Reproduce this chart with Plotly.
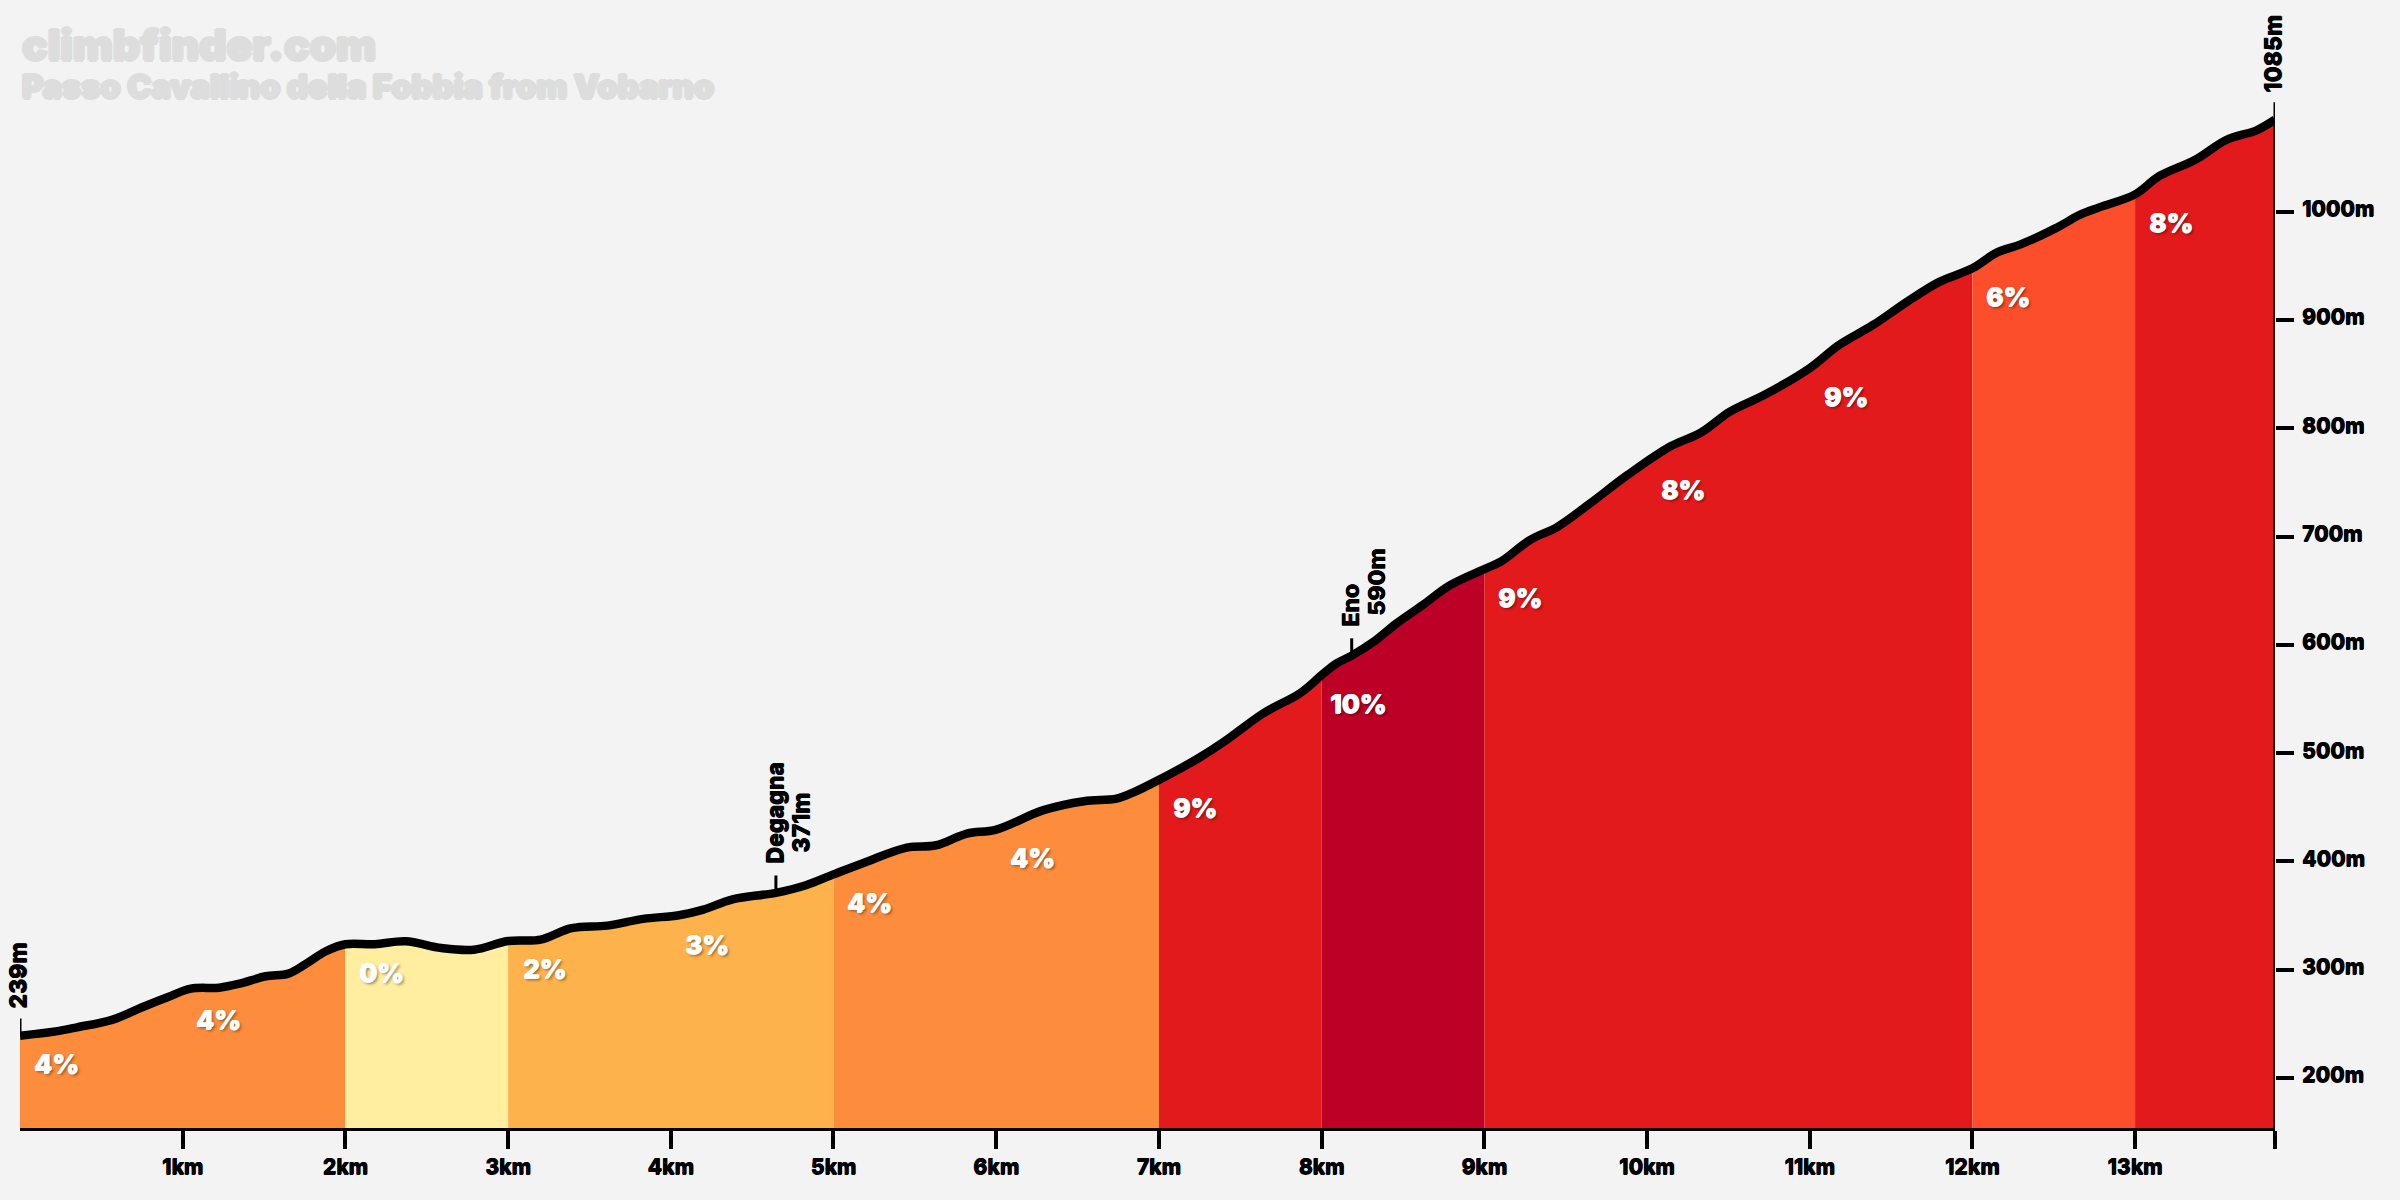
import numpy as np
import plotly.graph_objects as go

km = [0,.22,.35,.57,.755,.91,1.05,1.225,1.35,1.51,1.65,1.76,1.88,2.0,2.18,2.37,2.59,2.79,3.0,3.2,3.39,3.61,3.83,4.05,4.2,4.38,4.646,4.83,5.0,5.2,5.45,5.63,5.82,6.0,6.29,6.54,6.74,6.84,7.0,7.24,7.4,7.64,7.87,8.0,8.09,8.185,8.32,8.46,8.62,8.79,9.0,9.1,9.28,9.45,9.65,9.88,10.14,10.33,10.51,10.72,11.0,11.18,11.39,11.6,11.8,12.0,12.15,12.3,12.51,12.66,12.78,13.0,13.15,13.37,13.56,13.75,13.86]
elev = [239,243,246.8,253.9,265.6,274.8,282.5,283.4,287.1,293.9,296.4,305.6,317,323.5,323.5,326.2,320,318.5,326.5,327.8,338.3,340.7,346.9,350.3,355.5,365,371,378,388,399.5,412.8,414.9,425.7,429.4,447.3,455.6,458,463.5,475.3,495,510.4,536.6,555.6,572,582.7,590,602.8,619.7,636.6,655.1,670,676.7,696.7,709,730.6,756.8,783,795.9,815.3,830.7,855.5,876.9,895.4,917,935.4,947.7,962.2,970,984.6,997,1004,1016,1033,1048,1066.2,1075.4,1085]

band_start = [0, 2, 3, 5, 7, 8, 9, 12, 13]
band_end = [2, 3, 5, 7, 8, 9, 12, 13, 13.86]
band_color = ["#fd8d3c", "#ffeda0", "#feb24c", "#fd8d3c", "#e31a1c", "#bd0026", "#e31a1c", "#fc4e2a", "#e31a1c"]

grade_km = [0,1,2,3,4,5,6,7,8,9,10,11,12,13]
grade_text = ["4%","4%","0%","2%","3%","4%","4%","9%","10%","9%","8%","9%","6%","8%"]

x_ticks = [1,2,3,4,5,6,7,8,9,10,11,12,13]
x_tick_text = ["1km","2km","3km","4km","5km","6km","7km","8km","9km","10km","11km","12km","13km"]
y_ticks = [200,300,400,500,600,700,800,900,1000]

poi_km = [0, 4.646, 8.185, 13.86]
poi_elev = [239, 371, 590, 1085]
poi_name = [None, "Degagna", "Eno", None]
poi_text = ["239m", "371m", "590m", "1085m"]

FONT = "Inter"
INK = "#000000"
km_a, elev_a = np.array(km), np.array(elev)
ymin, ymax = 153.8, 1195.5

fig = go.Figure()
for a, b, c in zip(band_start, band_end, band_color):
    m = (km_a >= a) & (km_a <= b)
    fig.add_trace(go.Scatter(x=km_a[m], y=elev_a[m], mode="lines", line=dict(width=0, color=c),
                             fill="tozeroy", fillcolor=c, hoverinfo="skip", showlegend=False))

fig.add_trace(go.Scatter(x=[km[-1], km[-1]], y=[ymin, elev[-1]], mode="lines",
                         line=dict(color=INK, width=3), showlegend=False, cliponaxis=False))
for k, e in zip(poi_km, poi_elev):
    fig.add_trace(go.Scatter(x=[k, k], y=[e, e + 16], mode="lines",
                             line=dict(color=INK, width=3), showlegend=False, cliponaxis=False))
fig.add_trace(go.Scatter(x=km, y=elev, mode="lines",
                         line=dict(color=INK, width=8.5, shape="spline", smoothing=1),
                         showlegend=False, cliponaxis=False))

shadow = "1px 0 0 #fff,0 1px 0 #fff,2px 2px 3px rgba(0,0,0,0.45)"
for k, t in zip(grade_km, grade_text):
    fig.add_annotation(x=k, y=float(np.interp(k, km_a, elev_a)), text=t, showarrow=False,
                       xshift=36, yshift=-28, xanchor="center", yanchor="middle",
                       font=dict(family=FONT, size=26, color="#ffffff", weight=800, shadow=shadow))

heavy = "0.5px 0 0 #000,0 0.5px 0 #000"
lab = dict(family=FONT, size=23, color=INK, weight=800, shadow=heavy)
for k, e, n, t in zip(poi_km, poi_elev, poi_name, poi_text):
    if n:
        fig.add_annotation(x=k, y=e, text=n, textangle=-90, showarrow=False, xanchor="center",
                           yanchor="bottom", xshift=-1, yshift=27, font=lab)
        fig.add_annotation(x=k, y=e, text=t, textangle=-90, showarrow=False, xanchor="center",
                           yanchor="bottom", xshift=25, yshift=38, font=lab)
    else:
        fig.add_annotation(x=k, y=e, text=t, textangle=-90, showarrow=False, xanchor="center",
                           yanchor="bottom", xshift=-2, yshift=25, font=lab)

gray = "#dddddd"
fat = ",".join(f"{dx}px {dy}px 0 {gray}" for dx, dy in [(1.5,0),(-1.5,0),(0,1.5),(0,-1.5)])
fig.add_annotation(xref="paper", yref="paper", x=0, y=1-44/1128, text="climbfinder.com", showarrow=False,
                   xanchor="left", yanchor="middle",
                   font=dict(family=FONT, size=42.5, color=gray, weight=900, shadow=fat))
fig.add_annotation(xref="paper", yref="paper", x=0, y=1-86/1128, text="Passo Cavallino della Fobbia from Vobarno", showarrow=False,
                   xanchor="left", yanchor="middle",
                   font=dict(family=FONT, size=32.6, color=gray, weight=900, shadow=fat))

tick_font = dict(family=FONT, size=21, color=INK, weight=800, shadow=heavy)
for v in y_ticks:
    fig.add_annotation(x=km[-1], y=v, text=f"{v}m", showarrow=False, xanchor="left", yanchor="middle",
                       xshift=25, yshift=3, font=tick_font)
fig.update_layout(
    width=2400, height=1200, paper_bgcolor="#f3f3f3", plot_bgcolor="#f3f3f3",
    margin=dict(l=20, r=125, t=0, b=72, autoexpand=False), showlegend=False,
    xaxis=dict(range=[0, km[-1]], tickmode="array", tickvals=x_ticks + [km[-1]], ticktext=x_tick_text + [""],
               showgrid=False, zeroline=False, showline=True, linecolor=INK, linewidth=3,
               ticks="outside", ticklen=18, tickwidth=4, tickcolor=INK, tickfont=tick_font, tickangle=0),
    yaxis=dict(range=[ymin, ymax], side="right", tickmode="array", tickvals=y_ticks, showticklabels=False,
               showgrid=False, zeroline=False, showline=False,
               ticks="outside", ticklen=18, tickwidth=4, tickcolor=INK),
)
fig.write_html("out.html", config={"displayModeBar": False}, post_script="document.body.style.margin='0';")
